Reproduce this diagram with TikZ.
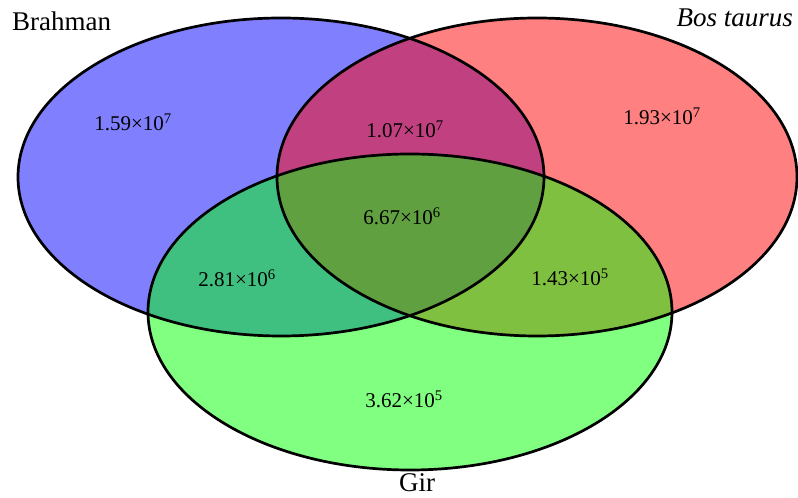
\documentclass[tikz,border=0pt]{standalone}
\usepackage{fontspec}
\setmainfont{Liberation Serif}
\usepackage{tikz}
\usetikzlibrary{positioning}
\definecolor{brahblue}{RGB}{128,128,255}
\definecolor{bosred}{RGB}{255,128,128}
\definecolor{girgreen}{RGB}{128,255,128}
\definecolor{brbos}{RGB}{192,64,128}
\definecolor{brgir}{RGB}{64,192,128}
\definecolor{bosgir}{RGB}{128,192,64}
\definecolor{allthree}{RGB}{96,160,64}
\newcommand{\brahE}{(281,321) ellipse [x radius=263pt,y radius=159pt]}
\newcommand{\bosE}{(537,321) ellipse [x radius=260pt,y radius=159pt]}
\newcommand{\girE}{(410,186) ellipse [x radius=262pt,y radius=158pt]}
\newcommand{\sci}[2]{#1\texttimes10\textsuperscript{#2}}

\begin{document}
\begin{tikzpicture}[x=1pt,y=1pt]
\tikzset{ring/.style={draw=black,line width=2.7pt},
  num/.style={anchor=base,font=\fontsize{21}{25}\selectfont,inner sep=0pt},
  setname/.style={font=\fontsize{27}{32}\selectfont,inner sep=0pt}}
\useasboundingbox (0,0) rectangle (798,498);
% sets
\fill[brahblue] \brahE; \fill[bosred] \bosE; \fill[girgreen] \girE;
\begin{scope} \clip \brahE; \fill[brbos] \bosE; \fill[brgir] \girE; \end{scope}
\begin{scope} \clip \bosE; \fill[bosgir] \girE; \end{scope}
\begin{scope} \clip \brahE; \clip \bosE; \fill[allthree] \girE; \end{scope}
\draw[ring] \brahE; \draw[ring] \bosE; \draw[ring] \girE;
% names
\node[setname,anchor=base west] (brahman) at (12,467) {Brahman};
\node[setname,anchor=base east] (bos) at (793,471) {\itshape Bos taurus};
\node[setname,anchor=base] (gir) at (417,6) {Gir};
% counts
\node[num] (brOnly) at (133,367) {\sci{1.59}{7}};
\node[num] (bosOnly) at (662,373) {\sci{1.93}{7}};
\node[num] (brBos) at (405,360) {\sci{1.07}{7}};
\node[num] (core) at (402,273) {\sci{6.67}{6}};
\node[num] (brGir) at (237,211) {\sci{2.81}{6}};
\node[num] (bosGir) at (570,212) {\sci{1.43}{5}};
\node[num] (girOnly) at (404,90) {\sci{3.62}{5}};
\end{tikzpicture}
\end{document}
